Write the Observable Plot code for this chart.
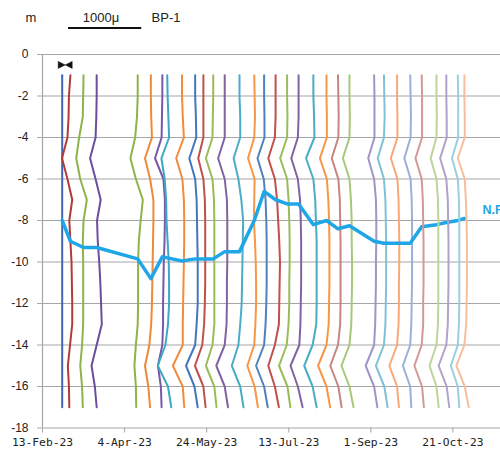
<!DOCTYPE html>
<html><head><meta charset="utf-8">
<script src="https://cdn.jsdelivr.net/npm/d3@7"></script>
<script src="https://cdn.jsdelivr.net/npm/@observablehq/plot@0.6"></script>
<style>
html,body{margin:0;padding:0;background:#fff;}
#chart{position:relative;width:500px;height:459px;overflow:hidden;}
</style></head><body><div id="chart"></div>
<script>
// ---- data ----
const profileDates = ["2023-02-25","2023-03-02","2023-03-10","2023-03-18","2023-04-12","2023-04-20","2023-04-27","2023-04-30",
  "2023-05-09","2023-05-17","2023-05-22","2023-05-28","2023-06-04","2023-06-13","2023-06-22","2023-06-28",
  "2023-07-05","2023-07-12","2023-07-19","2023-07-28","2023-08-05","2023-08-12","2023-08-19","2023-09-03",
  "2023-09-09","2023-09-17","2023-09-25","2023-10-02","2023-10-11","2023-10-17","2023-10-24","2023-10-28"];
const depths = [1,2,3,4,5,6,7,8,9,10,11,12,13,14,15,16,17];
// strain (micro) at each depth, one row per profile
const profileStrains = [
  [0,0,0,0,0,0,0,0,0,0,0,0,0,0,0,0,0],
  [0,-20,-25,-40,-115,-40,25,-15,0,15,20,25,25,-5,-35,-20,-15],
  [0,-5,-10,-60,-100,-45,45,0,-10,-5,-5,-5,-5,-20,-45,-20,-10],
  [0,0,-5,-15,-90,-15,55,5,15,35,50,60,70,0,-70,-25,0],
  [0,0,-10,-35,-100,-25,70,40,15,5,5,5,0,-25,-45,-25,-20],
  [0,0,5,15,-80,-10,35,35,30,25,20,15,5,-20,-80,-35,-10],
  [0,0,-5,-10,-100,15,35,35,30,20,15,10,10,0,-60,-20,-10],
  [0,5,15,25,-80,-35,-15,-10,5,20,25,25,10,-25,-130,10,55],
  [0,0,10,25,-80,5,25,30,30,25,20,15,10,10,-125,10,30],
  [0,0,10,15,-80,0,20,25,30,35,35,35,20,0,-125,-10,35],
  [0,0,0,0,-70,0,20,25,25,25,25,20,10,-15,-115,0,30],
  [0,0,-5,-10,-100,-10,10,15,15,15,15,15,15,-10,-100,15,45],
  [0,0,0,0,-90,0,30,35,35,35,30,30,25,0,-115,0,45],
  [0,0,10,10,-80,-15,25,50,45,40,35,30,10,-15,-105,10,55],
  [0,5,10,0,-85,5,0,-5,10,20,25,25,15,0,-95,5,50],
  [0,0,5,5,-90,-5,20,30,35,35,35,30,20,0,-110,0,50],
  [0,0,0,-10,-100,-10,20,35,50,60,55,50,45,-10,-100,-10,45],
  [0,0,5,0,-95,0,20,30,35,35,30,30,20,-5,-110,5,45],
  [0,0,0,-10,-100,-10,20,30,35,35,35,30,25,10,-110,-10,55],
  [0,0,10,15,-100,0,25,35,45,45,45,45,40,-10,-125,-10,45],
  [0,0,5,5,-90,5,25,35,40,40,40,35,30,0,-115,0,50],
  [0,5,10,5,-85,5,25,30,35,35,35,35,30,0,-105,5,50],
  [0,0,5,0,-90,0,20,30,30,35,35,30,25,0,-110,0,55],
  [0,5,5,5,-80,0,25,30,30,25,25,20,15,0,-115,0,45],
  [0,5,10,0,-85,0,20,25,30,30,30,25,20,0,-110,5,50],
  [0,0,5,5,-85,5,20,25,30,30,25,25,20,0,-105,0,25],
  [0,5,10,5,-80,5,20,25,25,25,25,20,15,0,-100,0,15],
  [0,5,5,5,-85,0,15,20,25,25,25,20,20,0,-100,5,30],
  [0,0,5,0,-80,0,20,25,25,25,25,25,20,0,-95,0,30],
  [0,0,5,5,-85,0,20,25,30,30,30,25,20,0,-105,5,40],
  [0,5,5,5,-80,0,15,20,20,20,20,20,15,0,-95,0,20],
  [0,0,5,5,-90,5,20,30,35,35,35,30,25,0,-110,5,60]
];
const profileColors = ["#3d68b2","#b03c3a","#8fb24c","#6b4f9c","#8fb24c","#ec8a3c","#7a58a8","#3ea7c4",
  "#f08c3e","#4674c0","#c0504d","#9bbb59","#8064a2","#4bacc6","#f79646","#4f81bd",
  "#c0504d","#9bbb59","#8064a2","#4bacc6","#f79646","#c88482","#a9c77a","#a294c4",
  "#7fc1d6","#f6a877","#9ab0da","#d39896","#bdd49a","#afa2cb","#9acfe0","#f7be9c"];
const nfLevels = [-8.0,-9.0,-9.3,-9.3,-9.85,-10.8,-9.75,-9.8,-9.95,-9.85,-9.85,-9.85,-9.5,-9.5,-8.0,-6.6,
  -7.0,-7.2,-7.2,-8.2,-8.0,-8.4,-8.25,-9.0,-9.1,-9.1,-9.1,-8.3,-8.2,-8.1,-8.0,-7.9];
const xTickDates = ["2023-02-13","2023-04-04","2023-05-24","2023-07-13","2023-09-01","2023-10-21"];
const yTicks = [0,-2,-4,-6,-8,-10,-12,-14,-16,-18];
const xDomain = ["2023-02-13","2023-11-19"];
const scaleMicro = 1000;           // scale bar value
const daysPerMicro = 44.6 / 1000;  // horizontal drawing scale of strain

// ---- build ----
const parse = d3.utcParse("%Y-%m-%d");
const DAY = 864e5;
const shift = (dateStr, micro) => new Date(+parse(dateStr) + micro * daysPerMicro * DAY);
const profiles = profileDates.map((ds, i) => depths.map((d, j) => ({x: shift(ds, profileStrains[i][j]), y: -d})));
const nfData = profileDates.map((ds, i) => ({x: parse(ds), y: nfLevels[i]}));
const gray = "#a6a6a6";
const nfColor = "#1ea6e6";

const lineMark = i => Plot.line(profiles[i], {x: "x", y: "y", stroke: profileColors[i], strokeWidth: 2});
const before = d3.range(0, 27).map(lineMark);
const after = d3.range(27, profiles.length).map(lineMark);

const bowtie = {draw(ctx) {
  ctx.moveTo(-7, -3.5); ctx.lineTo(0, 0); ctx.lineTo(-7, 3.5); ctx.closePath();
  ctx.moveTo(7, -3.5); ctx.lineTo(0, 0); ctx.lineTo(7, 3.5); ctx.closePath();
}};

const chart = Plot.plot({
  width: 500, height: 459,
  marginLeft: 42, marginRight: 0, marginTop: 54, marginBottom: 31.5,
  style: {fontFamily: "'Liberation Sans', Arial, sans-serif", fontSize: "12px", background: "#fff"},
  x: {type: "utc", domain: xDomain.map(parse)},
  y: {domain: [-18, 0]},
  marks: [
    Plot.ruleY(yTicks, {stroke: gray, strokeWidth: 1.2}),
    Plot.ruleX([parse(xDomain[0])], {stroke: gray, strokeWidth: 1.2}),
    ...before,
    Plot.line(nfData, {x: "x", y: "y", stroke: nfColor, strokeWidth: 3.5}),
    ...after,
    Plot.dot([nfData[0]], {x: "x", y: () => -0.5, symbol: bowtie, fill: "#111", stroke: "#111", strokeWidth: 0.5, dx: 3}),
    Plot.text([nfData[nfData.length - 1]], {x: "x", y: "y", text: () => "N.F.", fill: nfColor, fontWeight: "bold", fontSize: 12.5, textAnchor: "start", dx: 18, dy: -8}),
    Plot.axisY({ticks: yTicks, tickSize: 5, tickPadding: 9, tickFormat: d => String(d), stroke: gray, fill: "#222", label: null, fontSize: 12}),
    Plot.axisX({ticks: xTickDates.map(parse), tickSize: 5, tickPadding: 5, tickFormat: d3.utcFormat("%-d-%b-%y"), stroke: gray, fill: "#222", label: null, fontFamily: "'DejaVu Sans Mono', monospace", fontSize: 11.3})
  ]
});
document.getElementById("chart").appendChild(chart);

// header: unit, scale bar, borehole name
const sx = chart.scale("x");
const x0 = parse(xDomain[0]);
const barW = sx.apply(new Date(+x0 + scaleMicro * daysPerMicro * DAY)) - sx.apply(x0);
const svg = d3.select(chart);
const hdr = svg.append("g").attr("font-family", "'Liberation Sans', Arial, sans-serif").attr("font-size", 13).attr("fill", "#222");
hdr.append("text").attr("x", 31).attr("y", 22).attr("text-anchor", "middle").text("m");
hdr.append("text").attr("x", 101).attr("y", 22).attr("text-anchor", "middle").text(scaleMicro + "μ");
hdr.append("line").attr("x1", 68).attr("x2", 68 + barW).attr("y1", 28).attr("y2", 28).attr("stroke", "#111").attr("stroke-width", 2);
hdr.append("text").attr("x", 166).attr("y", 22).text("BP-1");
</script></body></html>
